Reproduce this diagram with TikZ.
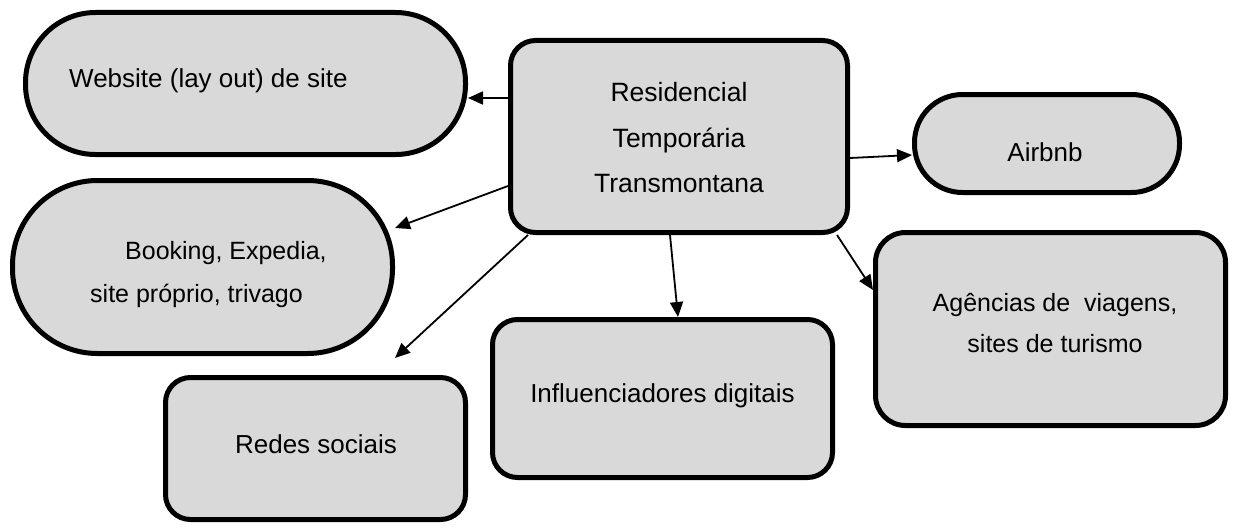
\documentclass[tikz,border=0pt]{standalone}
\usepackage{fontspec}
\setmainfont{Liberation Sans}
\usetikzlibrary{arrows.meta}
\definecolor{boxgray}{RGB}{217,217,217}

\begin{document}
\begin{tikzpicture}[x=1pt,y=-1pt,
  box/.style={draw,line width=5pt,fill=boxgray,rounded corners=#1,inner sep=0pt},
  box/.default=25pt,
  lbl/.style={inner sep=0pt,font=\fontsize{26}{45}\selectfont},
  arr/.style={line width=1.8pt,-{Triangle[length=15pt,width=13pt]}}]
\useasboundingbox (0,0) rectangle (1233,527);
% caixas
\node[box=70pt,minimum width=440pt,minimum height=142pt] (web) at (245.5,83.5) {};
\node[box,minimum width=337pt,minimum height=192pt] (ctr) at (679,136.5) {};
\node[box=48pt,minimum width=265pt,minimum height=98pt] (air) at (1047,143.5) {};
\node[box=85pt,minimum width=380pt,minimum height=173pt] (book) at (202.5,267) {};
\node[box,minimum width=300pt,minimum height=142pt] (red) at (315.5,448.5) {};
\node[box,minimum width=340pt,minimum height=158pt] (inf) at (662.5,398.5) {};
\node[box=30pt,minimum width=350pt,minimum height=193pt] (agn) at (1050.5,329) {};
% textos
\node[lbl,anchor=base west] (webtxt) at (69,87) {Website (lay out) de site};
\node[lbl,align=center,font=\fontsize{26.5}{45.5}\selectfont] (ctrtxt) at (679,138) {Residencial\\Temporária\\Transmontana};
\node[lbl,anchor=base] (airtxt) at (1045,161) {Airbnb};
\node[lbl,anchor=west,align=left,font=\fontsize{25}{43}\selectfont] (booktxt) at (90,275) {\hspace*{35pt}Booking, Expedia,\\site próprio, trivago};
\node[lbl,anchor=base] (redtxt) at (316,453) {Redes sociais};
\node[lbl,anchor=base] (inftxt) at (662.5,402) {Influenciadores digitais};
\node[lbl,align=center,font=\fontsize{25}{41}\selectfont] (agntxt) at (1055,323) {Agências de\ \ viagens,\\sites de turismo};
% setas
\coordinate (redtip) at (395,358);
\draw[arr] (ctr.west |- 0,98) -- (web.east |- 0,98);
\draw[arr] (ctr.east |- 0,158) -- (air.west |- 0,155);
\draw[arr] (ctr.west |- 0,186) -- (book.east |- 0,228);
\draw[arr] (ctr.south -| 528,0) -- (redtip);
\draw[arr] (ctr.south -| 670,0) -- (inf.north -| 678,0);
\draw[arr] (ctr.south -| 837,0) -- (agn.west |- 0,290);
\end{tikzpicture}
\end{document}
